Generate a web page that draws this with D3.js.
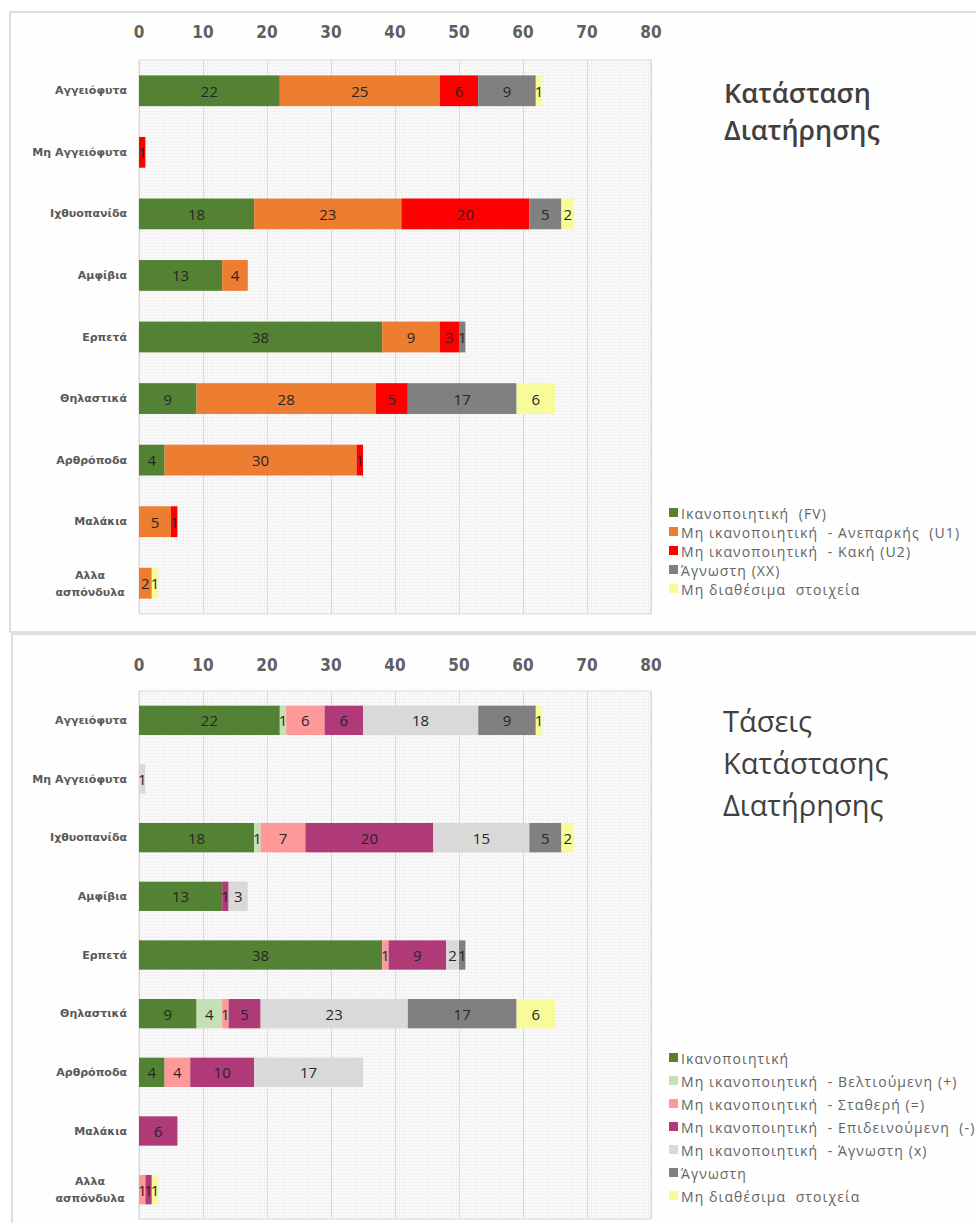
<!DOCTYPE html>
<html>
<head>
<meta charset="utf-8">
<script src="https://cdn.jsdelivr.net/npm/d3@7"></script>
<style>
  body { margin: 0; background: #fff; }
  text { white-space: pre; }
</style>
</head>
<body>
<div id="chart"></div>
<script>
/* Categories (same for both charts). */
const categories = ["Αγγειόφυτα", "Μη Αγγειόφυτα", "Ιχθυοπανίδα", "Αμφίβια", "Ερπετά",
  "Θηλαστικά", "Αρθρόποδα", "Μαλάκια", "Αλλα ασπόνδυλα"]

const ticks = [0, 10, 20, 30, 40, 50, 60, 70, 80]

/* Top chart: conservation status. */
const statusNames = ["Ικανοποιητική  (FV)", "Μη ικανοποιητική  - Ανεπαρκής  (U1)",
  "Μη ικανοποιητική  - Κακή (U2)", "Άγνωστη (XX)", "Μη διαθέσιμα  στοιχεία"]
const statusFV = [22, 0, 18, 13, 38, 9, 4, 0, 0]
const statusU1 = [25, 0, 23, 4, 9, 28, 30, 5, 2]
const statusU2 = [6, 1, 20, 0, 3, 5, 1, 1, 0]
const statusXX = [9, 0, 5, 0, 1, 17, 0, 0, 0]
const statusNA = [1, 0, 2, 0, 0, 6, 0, 0, 1]

/* Bottom chart: trends. */
const trendNames = ["Ικανοποιητική", "Μη ικανοποιητική  - Βελτιούμενη (+)",
  "Μη ικανοποιητική  - Σταθερή (=)", "Μη ικανοποιητική  - Επιδεινούμενη  (-)",
  "Μη ικανοποιητική  - Άγνωστη (x)", "Άγνωστη", "Μη διαθέσιμα  στοιχεία"]
const trendFV = [22, 0, 18, 13, 38, 9, 4, 0, 0]
const trendImproving = [1, 0, 1, 0, 0, 4, 0, 0, 0]
const trendStable = [6, 0, 7, 0, 1, 1, 4, 0, 1]
const trendDeclining = [6, 0, 20, 1, 9, 5, 10, 6, 1]
const trendUnknownX = [18, 1, 15, 3, 2, 23, 17, 0, 0]
const trendUnknown = [9, 0, 5, 0, 1, 17, 0, 0, 0]
const trendNA = [1, 0, 2, 0, 0, 6, 0, 0, 1]

/* Create svg-element. */
const width = 976
const height = 1223
const svg = d3.select("#chart")
  .append("svg")
  .attr("width", width)
  .attr("height", height)

/* Dotted texture of the plot area. */
const defs = svg.append("defs")
const pattern = defs.append("pattern")
  .attr("id", "dots")
  .attr("width", 3)
  .attr("height", 3)
  .attr("patternUnits", "userSpaceOnUse")
pattern.append("rect").attr("width", 3).attr("height", 3).attr("fill", "#f8f8f8")
pattern.append("rect").attr("width", 1).attr("height", 1).attr("fill", "#e6e6e6")

const x = d3.scaleLinear().domain([0, 80]).range([139, 651])

function drawPanel(cfg) {
  const g = svg.append("g")

  /* Panel frame. */
  g.append("rect")
    .attr("x", cfg.frame[0])
    .attr("y", cfg.frame[1])
    .attr("width", cfg.frame[2])
    .attr("height", cfg.frame[3])
    .attr("fill", "#fefefe")
    .attr("stroke", "#d4d4d4")
    .attr("stroke-width", 1.5)

  const y = d3.scaleBand()
    .domain(categories)
    .range([cfg.top, cfg.bottom])
    .paddingInner(0.5)
    .paddingOuter(0.25)

  /* Plot background. */
  g.append("rect")
    .attr("x", x(0))
    .attr("y", cfg.top)
    .attr("width", x(80) - x(0))
    .attr("height", cfg.bottom - cfg.top)
    .attr("fill", "url(#dots)")
    .attr("stroke", "#d9d9d9")

  /* Grid lines. */
  g.selectAll("line.grid")
    .data(ticks)
    .enter()
    .append("line")
    .attr("class", "grid")
    .attr("x1", d => x(d) + 0.5)
    .attr("x2", d => x(d) + 0.5)
    .attr("y1", cfg.top)
    .attr("y2", cfg.bottom)
    .attr("stroke", "#d9d9d9")

  /* Tick labels on top. */
  g.selectAll("text.tick")
    .data(ticks)
    .enter()
    .append("text")
    .attr("class", "tick")
    .attr("x", d => x(d))
    .attr("y", cfg.tickY)
    .attr("text-anchor", "middle")
    .attr("dominant-baseline", "central")
    .attr("font-family", "'DejaVu Sans Condensed', 'Liberation Sans Narrow', 'DejaVu Sans', sans-serif")
    .attr("font-stretch", "condensed")
    .attr("font-weight", "bold")
    .attr("font-size", "17px")
    .attr("fill", "#5f5f5f")
    .text(d => d)

  /* Stacked bars. */
  const rows = categories.map((c, i) => {
    const row = { category: c }
    cfg.keys.forEach((k, j) => { row[k] = cfg.series[j][i] })
    return row
  })
  const stacked = d3.stack().keys(cfg.keys)(rows)

  const layers = g.selectAll("g.layer")
    .data(stacked)
    .enter()
    .append("g")
    .attr("class", "layer")
    .attr("fill", (d, i) => cfg.colors[i])

  layers.selectAll("rect")
    .data(d => d.filter(p => p[1] > p[0]))
    .enter()
    .append("rect")
    .attr("x", d => x(d[0]))
    .attr("width", d => x(d[1]) - x(d[0]))
    .attr("y", d => y(d.data.category))
    .attr("height", y.bandwidth())

  layers.selectAll("text")
    .data(d => d.filter(p => p[1] > p[0]))
    .enter()
    .append("text")
    .attr("x", d => (x(d[0]) + x(d[1])) / 2)
    .attr("y", d => y(d.data.category) + y.bandwidth() / 2)
    .attr("text-anchor", "middle")
    .attr("dominant-baseline", "central")
    .attr("font-family", "'Open Sans', sans-serif")
    .attr("font-size", "15px")
    .attr("fill", "#262626")
    .text(d => d[1] - d[0])

  /* Category labels. */
  categories.forEach(c => {
    const lines = c === "Αλλα ασπόνδυλα" ? c.split(" ") : [c]
    const cy = y(c) + y.bandwidth() / 2
    const t = g.append("text")
      .attr("font-family", "'DejaVu Sans', sans-serif")
      .attr("font-weight", "bold")
      .attr("font-size", "11px")
      .attr("fill", "#595959")
      .attr("dominant-baseline", "central")
    if (lines.length === 1) {
      t.attr("x", 127).attr("y", cy).attr("text-anchor", "end").text(c)
    } else {
      t.attr("text-anchor", "middle")
      lines.forEach((l, i) => {
        t.append("tspan")
          .attr("x", 0)
          .attr("y", cy + (i - (lines.length - 1) / 2) * 17)
          .text(l)
      })
      const w = t.node().getBBox().width
      t.selectAll("tspan").attr("x", 125 - w / 2)
    }
  })

  /* Title, one text per line. */
  g.selectAll("text.title")
    .data(cfg.title)
    .enter()
    .append("text")
    .attr("class", "title")
    .attr("font-family", "'Open Sans', sans-serif")
    .attr("font-weight", cfg.titleWeight)
    .attr("font-size", cfg.titleSize)
    .attr("fill", "#404040")
    .attr("x", cfg.titleX)
    .attr("y", (d, i) => cfg.titleY + i * cfg.titleStep)
    .text(d => d)

  /* Legend. */
  const legend = g.selectAll("g.legend")
    .data(cfg.names)
    .enter()
    .append("g")
    .attr("class", "legend")
    .attr("transform", (d, i) => `translate(669, ${cfg.legendY + i * cfg.legendStep})`)

  legend.append("rect")
    .attr("x", 0)
    .attr("y", -5)
    .attr("width", 9)
    .attr("height", 9)
    .attr("fill", (d, i) => cfg.colors[i])

  legend.append("text")
    .attr("x", 12)
    .attr("y", 0)
    .attr("dominant-baseline", "central")
    .attr("font-family", "'Open Sans', sans-serif")
    .attr("font-size", "14px")
    .attr("letter-spacing", "1.1px")
    .attr("fill", "#646464")
    .text(d => d)
}

/* Top chart. */
drawPanel({
  frame: [10, 12, 980, 620],
  top: 60,
  bottom: 614,
  tickY: 32,
  keys: ["fv", "u1", "u2", "xx", "na"],
  series: [statusFV, statusU1, statusU2, statusXX, statusNA],
  colors: ["#548235", "#ed7d31", "#ff0000", "#808080", "#f7fb9a"],
  names: statusNames,
  title: ["Κατάσταση", "Διατήρησης"],
  titleX: 724,
  titleY: 103,
  titleStep: 37,
  titleSize: "27px",
  titleWeight: 600,
  legendY: 513,
  legendStep: 19
})

/* Bottom chart. */
drawPanel({
  frame: [12, 634, 980, 600],
  top: 691,
  bottom: 1219,
  tickY: 665,
  keys: ["fv", "imp", "stab", "dec", "unkx", "unk", "na"],
  series: [trendFV, trendImproving, trendStable, trendDeclining, trendUnknownX, trendUnknown, trendNA],
  colors: ["#548235", "#c5e0b4", "#ff9999", "#b03a78", "#d9d9d9", "#808080", "#f7fb9a"],
  names: trendNames,
  title: ["Τάσεις", "Κατάστασης", "Διατήρησης"],
  titleX: 723,
  titleY: 732,
  titleStep: 42,
  titleSize: "29px",
  titleWeight: 400,
  legendY: 1058,
  legendStep: 23
})
</script>
</body>
</html>
